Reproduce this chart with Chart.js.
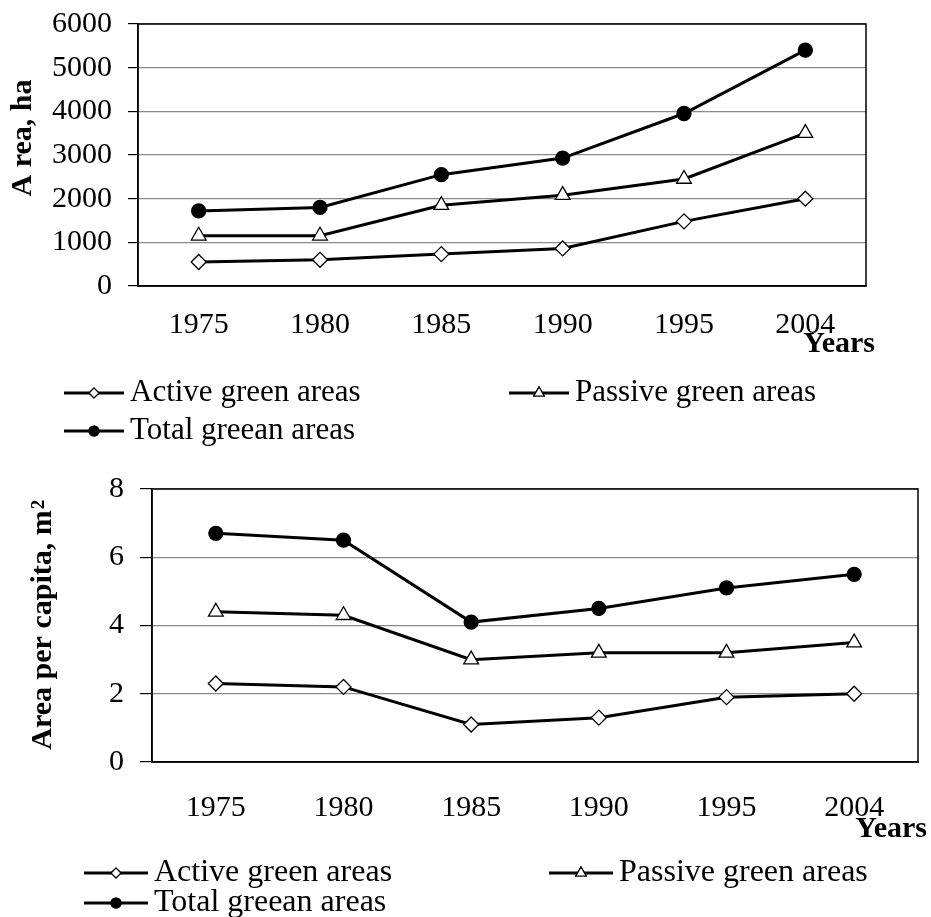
<!DOCTYPE html>
<html>
<head>
<meta charset="utf-8">
<script src="https://cdn.jsdelivr.net/npm/chart.js@4/dist/chart.umd.min.js"></script>
<style>
    body { margin: 0; background: #fff; }
    .box { position: absolute; left: 0; width: 931px; }
</style>
</head>
<body>
<div class="box" style="top:0;height:455px"><canvas id="areaChart"></canvas></div>
<div class="box" style="top:455px;height:462px"><canvas id="capitaChart"></canvas></div>
<script>
// Datos
const years = ['1975', '1980', '1985', '1990', '1995', '2004'];
const seriesNames = ['Active green areas', 'Passive green areas', 'Total greean areas'];

const areaActive = [550, 600, 730, 860, 1480, 2000];
const areaPassive = [1150, 1150, 1850, 2080, 2450, 3500];
const areaTotal = [1720, 1800, 2550, 2930, 3950, 5400];
const areaTicks = [0, 1000, 2000, 3000, 4000, 5000, 6000];

const capitaActive = [2.3, 2.2, 1.1, 1.3, 1.9, 2.0];
const capitaPassive = [4.4, 4.3, 3.0, 3.2, 3.2, 3.5];
const capitaTotal = [6.7, 6.5, 4.1, 4.5, 5.1, 5.5];
const capitaTicks = [0, 2, 4, 6, 8];

const SERIF = '"Liberation Serif", "Times New Roman", serif';

// Estilos de cada serie
const markerStyles = [
    { pointStyle: 'rectRot', radius: 7.5, bg: '#fff', legendRadius: 5 },
    { pointStyle: 'triangle', radius: 8.5, bg: '#fff', legendRadius: 6 },
    { pointStyle: 'circle', radius: 7, bg: '#000', legendRadius: 5 }
];

function makeDatasets(values) {
    return values.map((data, i) => ({
        label: seriesNames[i],
        data: data,
        borderColor: '#000',
        borderWidth: 3,
        pointStyle: markerStyles[i].pointStyle,
        pointRadius: markerStyles[i].radius,
        pointBackgroundColor: markerStyles[i].bg,
        pointBorderColor: '#000',
        pointBorderWidth: 1.3,
        tension: 0
    }));
}

// Marco, títulos y leyenda dibujados a mano
const decorPlugin = {
    id: 'decor',
    beforeDatasetsDraw(chart) {
        const { ctx, chartArea: a } = chart;
        ctx.save();
        ctx.strokeStyle = '#000';
        ctx.lineWidth = 1.5;
        ctx.strokeRect(a.left, a.top, a.right - a.left, a.bottom - a.top);
        ctx.restore();
    },
    afterDraw(chart, args, opts) {
        const ctx = chart.ctx;
        ctx.save();
        ctx.fillStyle = '#000';

        // Título eje Y
        ctx.save();
        ctx.font = 'bold 30px ' + SERIF;
        ctx.translate(opts.yTitleX, opts.yTitleY);
        ctx.rotate(-Math.PI / 2);
        ctx.textAlign = 'center';
        ctx.textBaseline = 'middle';
        ctx.fillText(opts.yTitle, 0, 0);
        if (opts.yTitleSup) {
            const w = ctx.measureText(opts.yTitle).width;
            ctx.font = 'bold 19px ' + SERIF;
            ctx.textAlign = 'left';
            ctx.fillText(opts.yTitleSup, w / 2 + 1, -4);
        }
        ctx.restore();

        // "Years"
        ctx.font = 'bold 30px ' + SERIF;
        ctx.textAlign = 'right';
        ctx.textBaseline = 'middle';
        ctx.fillText('Years', opts.yearsX, opts.yearsY);

        // Leyenda
        ctx.font = opts.legendSize + 'px ' + SERIF;
        ctx.textAlign = 'left';
        opts.legend.forEach((pos, i) => {
            const ds = chart.data.datasets[i];
            ctx.strokeStyle = '#000';
            ctx.lineWidth = 3;
            ctx.beginPath();
            ctx.moveTo(pos.x, pos.y);
            ctx.lineTo(pos.x + pos.len, pos.y);
            ctx.stroke();
            ctx.lineWidth = 1.2;
            Chart.helpers.drawPoint(ctx, {
                pointStyle: ds.pointStyle,
                radius: markerStyles[i].legendRadius,
                borderWidth: 1.2
            }, pos.x + pos.len / 2, pos.y);
            ctx.fillStyle = markerStyles[i].bg;
            ctx.fill();
            ctx.stroke();
            ctx.fillStyle = '#000';
            ctx.fillText(ds.label, pos.x + pos.len + 6, pos.y);
        });
        ctx.restore();
    }
};

function makeChart(id, values, ticks, cfg) {
    const ctx = document.getElementById(id).getContext('2d');
    return new Chart(ctx, {
        type: 'line',
        data: { labels: years, datasets: makeDatasets(values) },
        plugins: [decorPlugin],
        options: {
            responsive: true,
            maintainAspectRatio: false,
            animation: false,
            layout: { padding: { top: cfg.top, right: cfg.right, left: 0, bottom: 0 } },
            scales: {
                x: {
                    offset: true,
                    grid: { display: false },
                    border: { display: true, color: '#000', width: 1.5 },
                    ticks: { color: '#000', font: { family: SERIF, size: 30 }, padding: cfg.xPad, maxRotation: 0 },
                    afterFit: (s) => { s.height = cfg.xHeight; s.paddingLeft = 0; s.paddingRight = 0; }
                },
                y: {
                    min: ticks[0],
                    max: ticks[ticks.length - 1],
                    afterBuildTicks: (s) => { s.ticks = ticks.map(v => ({ value: v })); },
                    grid: { color: '#8a8a8a', lineWidth: 1.2, tickColor: '#000', tickLength: cfg.tickLen },
                    border: { display: true, color: '#000', width: 1.5 },
                    ticks: {
                        color: '#000',
                        font: { family: SERIF, size: 30 },
                        padding: cfg.yPad,
                        callback: (v) => String(v)
                    },
                    afterFit: (s) => { s.width = cfg.left; s.paddingTop = 0; s.paddingBottom = 0; }
                }
            },
            plugins: {
                legend: { display: false },
                tooltip: { enabled: false },
                decor: cfg.decor
            }
        }
    });
}

makeChart('areaChart', [areaActive, areaPassive, areaTotal], areaTicks, {
    top: 24, right: 65, left: 138, xHeight: 169, xPad: 13, tickLen: 10, yPad: 16,
    decor: {
        yTitle: 'A rea, ha', yTitleX: 23, yTitleY: 138,
        yearsX: 875, yearsY: 344,
        legendSize: 31,
        legend: [
            { x: 64, y: 393, len: 60 },
            { x: 509, y: 393, len: 60 },
            { x: 64, y: 431, len: 60 }
        ]
    }
});

makeChart('capitaChart', [capitaActive, capitaPassive, capitaTotal], capitaTicks, {
    top: 34, right: 13, left: 152, xHeight: 155, xPad: 20, tickLen: 12, yPad: 16,
    decor: {
        yTitle: 'Area per capita, m', yTitleSup: '2', yTitleX: 43, yTitleY: 175,
        yearsX: 927, yearsY: 374,
        legendSize: 32,
        legend: [
            { x: 84, y: 418, len: 64 },
            { x: 549, y: 418, len: 64 },
            { x: 84, y: 448, len: 64 }
        ]
    }
});
</script>
</body>
</html>
